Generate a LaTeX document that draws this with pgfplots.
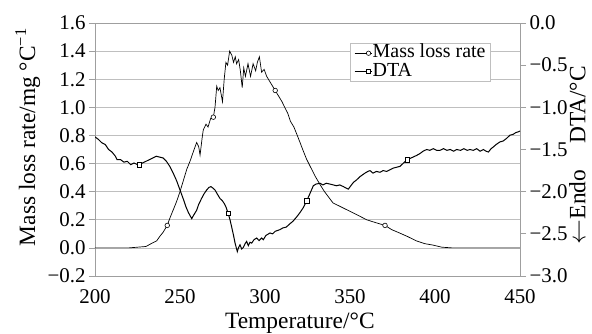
\documentclass[border=0pt]{standalone}
\usepackage{fontspec}
\setmainfont{Liberation Serif}
\usepackage{pgfplots}
\pgfplotsset{compat=1.18}

\begin{document}
\begin{tikzpicture}
\pgfplotsset{
  every axis/.append style={
    width=425bp, height=253bp, scale only axis,
    xmin=200, xmax=450,
    axis line style={gray!75, line width=0.7bp},
    tick style={gray!75, line width=0.7bp},
    tick align=outside, major tick length=6bp,
    tick label style={font=\rmfamily\fontsize{21}{21}\selectfont},
    label style={font=\rmfamily\fontsize{23.5}{24}\selectfont},
  },
}
\begin{axis}[
  name=ax,
  ymin=-0.2, ymax=1.6,
  ytick={-0.2,0,0.2,0.4,0.6,0.8,1.0,1.2,1.4,1.6},
  yticklabels={\textrm{−0.2},\textrm{0.0},\textrm{0.2},\textrm{0.4},\textrm{0.6},\textrm{0.8},\textrm{1.0},\textrm{1.2},\textrm{1.4},\textrm{1.6}},
  xtick={200,250,300,350,400,450},
  xticklabels={\textrm{200},\textrm{250},\textrm{300},\textrm{350},\textrm{400},\textrm{450}},
  xticklabel style={yshift=-4bp},
  xtick style={draw=none},
  ytick pos=left,
  xtick pos=bottom,
  ymajorgrids,
  major grid style={gray!50, line width=0.6bp},
  xlabel={Temperature/°C},
  ylabel={Mass loss rate/mg °C\textsuperscript{−1}},
  xlabel style={at={(axis description cs:0.482,-0.186)}, anchor=center},
  ylabel style={at={(axis description cs:-0.158,0.549)}, anchor=center},
]
\addplot[black, line width=0.7bp] coordinates {
(200,0.00) (210,0.00) (220,0.00) (225,0.005) (230,0.01) (233,0.03) (236.3,0.05)
(238,0.08) (240,0.11) (242.5,0.16) (244,0.21) (246,0.27) (248,0.33) (250,0.40)
(252,0.48) (254,0.56) (256,0.62) (258,0.69) (259.8,0.75) (261,0.72) (261.8,0.66)
(263,0.78) (263.7,0.84) (265.3,0.88) (266.5,0.86) (268,0.92) (269.6,0.93)
(270.6,1.00) (271.6,1.15) (272.5,1.12) (273.5,1.14) (275,1.04) (276,1.20)
(277,1.32) (278,1.30) (279.2,1.40) (280.5,1.37) (281.5,1.32) (282.5,1.36)
(283.3,1.31) (284.5,1.34) (285.5,1.26) (286.6,1.14) (287.5,1.28) (288.5,1.22)
(290,1.31) (291.5,1.22) (293,1.31) (294.5,1.26) (295.5,1.32) (296.7,1.36)
(298,1.25) (299.5,1.27) (301,1.22) (303.5,1.17) (306,1.12) (308,1.08)
(310,1.04) (312,0.99) (313.3,0.96) (315,0.90) (317,0.86) (319,0.80)
(320.6,0.75) (322.5,0.69) (324.5,0.63) (327,0.57) (329.5,0.51) (332.4,0.45)
(335,0.40) (337.5,0.36) (340,0.32) (345,0.29) (350,0.26) (355,0.23)
(359.8,0.20) (365,0.18) (370.6,0.16) (374.5,0.13) (378.4,0.11) (384,0.08)
(389,0.05) (394,0.03) (398.8,0.02) (404,0.005) (410,0.00) (420,0.00)
(430,0.00) (440,0.00) (450,0.00)
};
\addplot[only marks, mark=*, mark size=2.3bp, mark options={fill=white, draw=black, line width=0.6bp}] coordinates {
(242.5,0.16) (269.6,0.93) (306,1.12) (370.6,0.16)
};
\end{axis}
\begin{axis}[
  ymin=-3, ymax=0,
  axis x line=none,
  axis y line*=right,
  ytick={-3,-2.5,-2,-1.5,-1,-0.5,0},
  yticklabels={\textrm{−3.0},\textrm{−2.5},\textrm{−2.0},\textrm{−1.5},\textrm{−1.0},\textrm{−0.5},\textrm{0.0}},
  ylabel={$\leftarrow$Endo\hspace{26bp}DTA/°C},
  ylabel style={at={(axis description cs:1.135,0.478)}, anchor=center},
  legend style={at={(rel axis cs:0.6,0.921)}, anchor=north west,
    draw=gray!50, fill=white, inner ysep=1bp, inner xsep=4bp, row sep=0bp,
    font=\rmfamily\fontsize{20}{20}\selectfont,
    nodes={inner sep=0.8bp, text height=13bp, text depth=3.5bp}},
  legend cell align=left,
  legend image code/.code={\draw[mark repeat=2,mark phase=2,#1] plot coordinates {(0bp,0bp) (14bp,0bp) (17bp,0bp)};},
]
\addplot[black, line width=1bp, forget plot] coordinates {
(200,-1.35) (202,-1.38) (204,-1.42) (206,-1.44) (208,-1.50) (210,-1.53)
(212,-1.58) (213,-1.62) (215,-1.62) (217,-1.65) (219,-1.64) (221,-1.68)
(223,-1.66) (225,-1.68) (226,-1.68) (228,-1.66) (230,-1.64) (232,-1.62)
(234,-1.60) (236,-1.58) (238,-1.59) (240,-1.60) (242,-1.64) (244,-1.70)
(246,-1.78) (248,-1.87) (250,-1.98) (252,-2.09) (253.5,-2.18) (255,-2.25)
(256.9,-2.32) (258,-2.28) (259.8,-2.22) (261,-2.15) (262.7,-2.08) (264,-2.03)
(265.7,-1.98) (267,-1.95) (268.2,-1.94) (269.5,-1.96) (270.6,-1.98) (272,-2.03)
(273.5,-2.08) (275,-2.11) (276,-2.14) (277,-2.18) (278.4,-2.26) (279.5,-2.34)
(280.4,-2.42) (281.5,-2.52) (282.4,-2.61) (283.7,-2.71) (284.5,-2.66) (285.3,-2.63)
(286.3,-2.68) (287.3,-2.66) (288.2,-2.62) (289.2,-2.59) (290.2,-2.64) (291.2,-2.60)
(292.2,-2.61) (293.5,-2.57) (295.1,-2.55) (296.5,-2.58) (298,-2.55) (299,-2.57)
(300.5,-2.52) (302.9,-2.49) (304.5,-2.50) (306,-2.47) (308.8,-2.45) (310.5,-2.43)
(312.5,-2.42) (314.7,-2.38) (316.5,-2.35) (318.6,-2.30) (320.5,-2.25) (322.5,-2.19)
(324.5,-2.11) (326.5,-2.02) (328.4,-1.93) (330,-1.91) (332.4,-1.90) (334,-1.92)
(336,-1.90) (338.2,-1.91) (340.2,-1.92) (342,-1.93) (344,-1.92) (346.1,-1.94)
(348,-1.96) (349,-1.97) (350.5,-1.93) (352,-1.89) (353.9,-1.86) (356,-1.82)
(358.8,-1.78) (360.5,-1.76) (361.8,-1.75) (363.5,-1.78) (365.5,-1.76) (367.6,-1.77)
(369.5,-1.75) (371.5,-1.76) (373.5,-1.74) (375.5,-1.72) (377.5,-1.71) (379.4,-1.70)
(381.5,-1.66) (383.7,-1.62) (386,-1.60) (389.2,-1.57) (391,-1.55) (393,-1.52)
(395.1,-1.50) (397,-1.51) (399,-1.49) (401,-1.51) (402.9,-1.51) (405,-1.49)
(407,-1.51) (409,-1.50) (411,-1.52) (412.7,-1.50) (415,-1.51) (417,-1.49)
(419,-1.51) (420.5,-1.50) (422.5,-1.51) (424.5,-1.49) (426.5,-1.52) (428.5,-1.50)
(430,-1.52) (431.4,-1.53) (433,-1.49) (434.3,-1.47) (436,-1.44) (438.2,-1.41)
(440,-1.40) (442,-1.37) (444.1,-1.33) (446,-1.32) (447.5,-1.30) (449,-1.29) (450,-1.28)
};
\addplot[only marks, mark=square*, mark size=2.2bp, mark options={fill=white, draw=black, line width=0.6bp}, forget plot] coordinates {
(226,-1.68) (278.4,-2.26) (324.5,-2.11) (383.7,-1.62)
};
\addlegendimage{black, line width=0.7bp, mark=*, mark size=2.2bp, mark options={fill=white, draw=black, line width=0.6bp}}
\addlegendentry{Mass loss rate}
\addlegendimage{black, line width=0.7bp, mark=square*, mark size=2.2bp, mark options={fill=white, draw=black, line width=0.6bp}}
\addlegendentry{DTA}
\end{axis}
\pgfresetboundingbox
\path (ax.south west) ++(-95bp,-58bp) rectangle ++(592bp,334bp);
\end{tikzpicture}
\end{document}
